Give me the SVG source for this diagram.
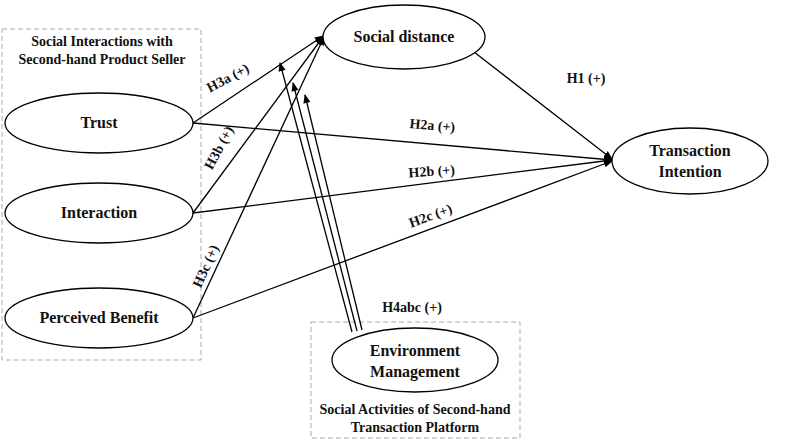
<svg xmlns="http://www.w3.org/2000/svg" width="800" height="440" viewBox="0 0 800 440">
<defs><marker id="ah" viewBox="0 0 10 10" refX="9" refY="5" markerWidth="7" markerHeight="7" orient="auto"><path d="M0,1 L10,5 L0,9 z" fill="#000"/></marker></defs>
<style>
text{font-family:"Liberation Serif",serif;font-weight:bold;fill:#111;text-anchor:middle}
.n{font-size:16px}.l{font-size:14px}.b{font-size:14px}
ellipse{fill:#fff;stroke:#000;stroke-width:1.3}
.box{fill:none;stroke:#aaa;stroke-dasharray:5,3}
#c line{stroke:#000;stroke-width:1.3;marker-end:url(#ah)}
</style>
<rect class="box" x="2" y="29" width="199" height="331"/>
<rect class="box" x="311" y="322" width="209" height="116"/>
<text class="b" x="102" y="46">Social Interactions with</text>
<text class="b" x="102" y="64">Second-hand Product Seller</text>
<text class="b" x="415" y="414">Social Activities of Second-hand</text>
<text class="b" x="415" y="432">Transaction Platform</text>
<g id="c">
<line x1="193" y1="123" x2="323" y2="36"/>
<line x1="193" y1="213" x2="323" y2="37"/>
<line x1="193" y1="318" x2="324" y2="37"/>
<line x1="193" y1="123" x2="612" y2="160"/>
<line x1="193" y1="213" x2="612" y2="160"/>
<line x1="193" y1="318" x2="612" y2="161"/>
<line x1="465" y1="45" x2="612" y2="159"/>
<line x1="352" y1="332" x2="280" y2="63"/>
<line x1="357" y1="331" x2="293" y2="83"/>
<line x1="362" y1="330" x2="305" y2="95"/>
</g>
<g id="social"><ellipse cx="404" cy="37" rx="81" ry="32"/><text class="n" x="404" y="42">Social distance</text></g>
<g id="trust"><ellipse cx="99" cy="123" rx="94" ry="30"/><text class="n" x="99" y="128">Trust</text></g>
<g id="interaction"><ellipse cx="99" cy="213" rx="94" ry="30"/><text class="n" x="99" y="218">Interaction</text></g>
<g id="benefit"><ellipse cx="99" cy="318" rx="94" ry="30"/><text class="n" x="99" y="323">Perceived Benefit</text></g>
<g id="ti"><ellipse cx="690" cy="161" rx="78" ry="33"/><text class="n" x="690" y="156">Transaction</text><text class="n" x="690" y="177">Intention</text></g>
<g id="env"><ellipse cx="415" cy="360" rx="83" ry="32"/><text class="n" x="415" y="356">Environment</text><text class="n" x="415" y="377">Management</text></g>
<text class="l" transform="translate(230,82) rotate(-28)">H3a (+)</text>
<text class="l" transform="translate(223,150) rotate(-62)">H3b (+)</text>
<text class="l" transform="translate(210,268) rotate(-66)">H3c (+)</text>
<text class="l" transform="translate(432,130) rotate(5)">H2a (+)</text>
<text class="l" transform="translate(432,176) rotate(-4)">H2b (+)</text>
<text class="l" transform="translate(432,220) rotate(-20)">H2c (+)</text>
<text class="l" x="586" y="83">H1 (+)</text>
<text class="l" x="412" y="312">H4abc (+)</text>
</svg>
